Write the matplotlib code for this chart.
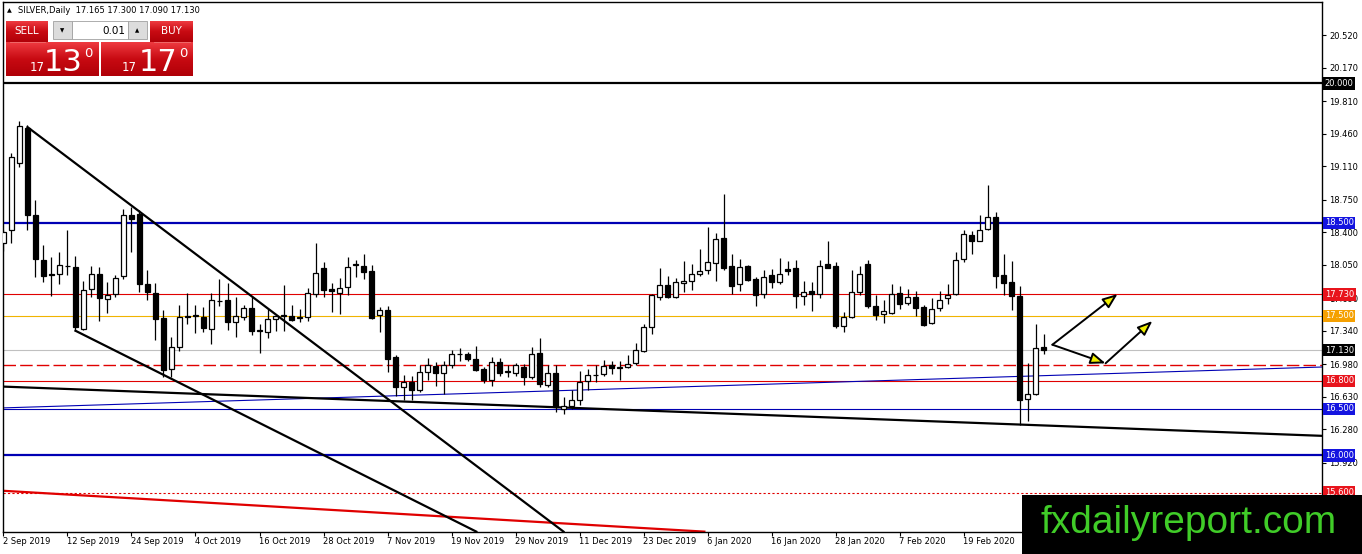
import numpy as np
import matplotlib
matplotlib.use('Agg')
import matplotlib.pyplot as plt
from matplotlib.patches import Rectangle
from matplotlib.colors import LinearSegmentedColormap

W, H = 1362, 554

# daily OHLC, one entry per bar (bar 0 = 2 Sep 2019)
opens = [18.28, 18.42, 19.14, 19.52, 18.59, 18.10, 17.95, 17.95, 18.04, 18.03,
         17.36, 17.79, 17.95, 17.68, 17.73, 17.93, 18.58, 18.60, 17.84, 17.75,
         17.48, 16.93, 17.17, 17.49, 17.50, 17.49, 17.36, 17.66, 17.67, 17.43,
         17.49, 17.58, 17.34, 17.33, 17.47, 17.50, 17.50, 17.48, 17.49, 17.74,
         18.01, 17.79, 17.75, 17.81, 18.05, 18.04, 17.98, 17.51, 17.56, 17.06,
         16.73, 16.79, 16.70, 16.90, 16.96, 16.89, 16.97, 17.09, 17.09, 17.04,
         16.93, 16.81, 17.00, 16.90, 16.89, 16.95, 16.84, 17.10, 16.76, 16.89,
         16.50, 16.53, 16.60, 16.80, 16.86, 16.88, 16.97, 16.94, 16.95, 16.99,
         17.12, 17.38, 17.70, 17.83, 17.70, 17.85, 17.87, 17.95, 17.99, 18.07,
         18.34, 18.04, 17.84, 18.04, 17.90, 17.73, 17.94, 17.86, 18.00, 18.01,
         17.71, 17.77, 17.73, 18.06, 18.04, 17.39, 17.49, 17.76, 18.06, 17.61,
         17.52, 17.53, 17.75, 17.64, 17.70, 17.60, 17.42, 17.58, 17.69, 17.73,
         18.11, 18.37, 18.31, 18.43, 18.56, 17.94, 17.86, 17.71, 16.61, 16.66,
         17.165]
highs = [18.42, 19.25, 19.60, 19.55, 18.75, 18.26, 18.13, 18.19, 18.42, 18.14,
         17.88, 18.04, 18.03, 17.86, 17.94, 18.65, 18.67, 18.64, 17.99, 17.85,
         17.56, 17.27, 17.62, 17.75, 17.62, 17.60, 17.75, 17.90, 17.85, 17.70,
         17.62, 17.70, 17.41, 17.57, 17.50, 17.83, 17.62, 17.57, 17.80, 18.28,
         18.08, 17.85, 17.91, 18.13, 18.10, 18.17, 18.05, 17.60, 17.61, 17.08,
         16.86, 16.85, 16.97, 17.05, 17.00, 17.01, 17.13, 17.15, 17.11, 17.18,
         16.95, 17.06, 17.05, 16.97, 16.99, 16.98, 17.17, 17.26, 16.97, 16.97,
         16.63, 16.70, 16.91, 16.93, 16.97, 17.03, 17.02, 17.01, 17.08, 17.21,
         17.41, 17.73, 18.01, 17.93, 17.91, 18.09, 18.06, 18.22, 18.46, 18.39,
         18.81, 18.16, 18.11, 18.05, 17.92, 17.99, 18.00, 18.12, 18.09, 18.10,
         17.88, 17.86, 18.10, 18.30, 18.08, 17.54, 17.99, 18.04, 18.10, 17.72,
         17.67, 17.84, 17.82, 17.79, 17.77, 17.62, 17.69, 17.77, 17.84, 18.19,
         18.42, 18.41, 18.59, 18.91, 18.62, 18.16, 18.09, 17.82, 16.99, 17.41,
         17.30]
lows = [18.20, 18.28, 19.10, 18.42, 17.92, 17.86, 17.71, 17.84, 17.94, 17.34,
        17.35, 17.70, 17.45, 17.53, 17.70, 17.90, 18.19, 17.76, 17.67, 17.24,
        16.84, 16.84, 17.12, 17.41, 17.32, 17.33, 17.20, 17.61, 17.35, 17.27,
        17.46, 17.29, 17.10, 17.26, 17.34, 17.34, 17.44, 17.43, 17.44, 17.70,
        17.70, 17.54, 17.52, 17.72, 17.92, 17.90, 17.47, 17.33, 16.90, 16.64,
        16.60, 16.59, 16.68, 16.81, 16.75, 16.66, 16.94, 17.02, 17.02, 16.91,
        16.78, 16.75, 16.85, 16.84, 16.85, 16.76, 16.82, 16.73, 16.74, 16.47,
        16.45, 16.50, 16.54, 16.70, 16.79, 16.85, 16.88, 16.81, 16.94, 16.97,
        17.11, 17.30, 17.67, 17.69, 17.69, 17.76, 17.78, 17.93, 17.95, 17.88,
        17.99, 17.73, 17.77, 17.87, 17.61, 17.69, 17.80, 17.84, 17.94, 17.58,
        17.62, 17.55, 17.69, 18.01, 17.37, 17.33, 17.48, 17.72, 17.58, 17.46,
        17.42, 17.52, 17.57, 17.62, 17.50, 17.39, 17.41, 17.55, 17.63, 17.72,
        18.08, 18.16, 18.30, 18.42, 17.80, 17.72, 17.56, 16.33, 16.37, 16.65,
        17.09]
closes = [18.40, 19.21, 19.54, 18.59, 18.11, 17.93, 17.94, 18.05, 18.035, 17.38,
          17.78, 17.95, 17.69, 17.72, 17.91, 18.59, 18.54, 17.84, 17.76, 17.47,
          16.92, 17.16, 17.49, 17.50, 17.505, 17.37, 17.67, 17.665, 17.43, 17.50,
          17.59, 17.34, 17.345, 17.47, 17.50, 17.505, 17.46, 17.485, 17.75, 17.96,
          17.78, 17.77, 17.80, 18.03, 18.055, 17.97, 17.48, 17.56, 17.04, 16.73,
          16.79, 16.70, 16.90, 16.97, 16.89, 16.97, 17.09, 17.095, 17.04, 16.92,
          16.81, 17.00, 16.89, 16.905, 16.97, 16.84, 17.09, 16.77, 16.89, 16.52,
          16.53, 16.60, 16.79, 16.86, 16.865, 16.96, 16.94, 16.945, 16.98, 17.13,
          17.38, 17.72, 17.83, 17.70, 17.86, 17.88, 17.95, 17.98, 18.08, 18.33,
          18.02, 17.82, 18.03, 17.89, 17.72, 17.92, 17.86, 17.95, 17.98, 17.71,
          17.76, 17.73, 18.04, 18.02, 17.39, 17.49, 17.76, 17.95, 17.61, 17.51,
          17.55, 17.74, 17.63, 17.70, 17.58, 17.40, 17.57, 17.67, 17.72, 18.10,
          18.38, 18.30, 18.42, 18.56, 17.93, 17.85, 17.71, 16.59, 16.66, 17.15,
          17.13]

date_labels = ['2 Sep 2019', '12 Sep 2019', '24 Sep 2019', '4 Oct 2019',
               '16 Oct 2019', '28 Oct 2019', '7 Nov 2019', '19 Nov 2019',
               '29 Nov 2019', '11 Dec 2019', '23 Dec 2019', '6 Jan 2020',
               '16 Jan 2020', '28 Jan 2020', '7 Feb 2020', '19 Feb 2020']
label_bars = list(range(0, 8 * len(date_labels), 8))

price_ticks = [20.52, 20.17, 19.81, 19.46, 19.11, 18.75, 18.40, 18.05,
               17.69, 17.34, 16.98, 16.63, 16.28, 15.92]

# price tags on the right axis
tag_values = [20.0, 18.5, 17.73, 17.5, 17.13, 16.8, 16.5, 16.0, 15.6]

# trend lines (bar, price) pairs
line_a = ([3.0, 70.0], [19.53, 15.18])
line_b = ([9.0, 59.1], [17.34, 15.18])
black_trend = ([-0.2, 164.8], [16.74, 16.21])
blue_trend = ([-0.2, 164.8], [16.51, 16.95])
red_trend = ([-0.2, 87.6], [15.62, 15.18])

# arrows (start bar, start price, end bar, end price)
arrows = [(131.1, 17.19, 139.25, 17.735),
          (131.1, 17.19, 137.75, 16.99),
          (137.75, 16.99, 143.6, 17.445)]

plt.rcParams['font.family'] = ['DejaVu Sans']
fig = plt.figure(figsize=(W / 100, H / 100), dpi=100)
fig.patch.set_facecolor('white')
ax = fig.add_axes([3 / W, (H - 532) / H, 1319 / W, 530 / H])
ax.set_xlim(-0.06, 164.8)
ax.set_ylim(15.176, 20.875)

RED = '#e00000'
BLUE = '#0000b4'
GOLD = '#f0b400'

# levels
ax.axhline(20.0, color='black', lw=1.6, zorder=1)
ax.axhline(18.5, color=BLUE, lw=1.6, zorder=1)
ax.axhline(17.73, color=RED, lw=0.8, zorder=1)
ax.axhline(17.5, color=GOLD, lw=0.8, zorder=1)
ax.axhline(17.13, color='#c0c0c0', lw=0.8, zorder=1)
ax.axhline(16.975, color=RED, lw=1.0, dashes=(9, 3), zorder=1)
ax.axhline(16.8, color=RED, lw=0.8, zorder=1)
ax.axhline(16.5, color=BLUE, lw=0.8, zorder=1)
ax.axhline(16.0, color=BLUE, lw=1.6, zorder=1)
ax.axhline(15.6, color=RED, lw=0.8, dashes=(2, 2), zorder=1)

# trend lines
ax.plot(*blue_trend, color=BLUE, lw=0.8, zorder=2)
ax.plot(*black_trend, color='black', lw=1.6, zorder=2)
ax.plot(*red_trend, color=RED, lw=1.6, zorder=2)
ax.plot(*line_a, color='black', lw=1.6, zorder=5)
ax.plot(*line_b, color='black', lw=1.6, zorder=5)

# candles
o = np.array(opens); h = np.array(highs); l = np.array(lows); c = np.array(closes)
x = np.arange(len(o))
up = c >= o
ax.vlines(x, l, h, color='black', lw=0.9, zorder=3)
body_bot = np.minimum(o, c)
body_h = np.maximum(np.abs(c - o), 0.004)
ax.bar(x, body_h, bottom=body_bot, width=0.62,
       color=np.where(up, 'white', 'black'), edgecolor='black',
       linewidth=0.9, zorder=4)

for x0, y0, x1, y1 in arrows:
    ax.annotate('', xy=(x1, y1), xytext=(x0, y0),
                arrowprops=dict(arrowstyle='-|>,head_length=0.9,head_width=0.35',
                                fc='#f0f000', ec='black', lw=1.4,
                                mutation_scale=10, shrinkA=0, shrinkB=0),
                zorder=6)

# axes styling
for s in ax.spines.values():
    s.set_color('black')
    s.set_linewidth(1.0)
ax.yaxis.tick_right()
ax.set_yticks(price_ticks)
ax.set_yticklabels([f'{v:.3f}' for v in price_ticks])
ax.tick_params(axis='y', direction='out', length=3, width=0.8, pad=2,
               labelsize=6.0, colors='black')
ax.set_xticks(label_bars)
ax.set_xticklabels([])
ax.tick_params(axis='x', direction='out', length=3, width=0.8)
for b, lab in zip(label_bars, date_labels):
    ax.text(b - 0.06, -0.009, lab, transform=ax.get_xaxis_transform(),
            ha='left', va='top', fontsize=6.0, clip_on=False)

tag_colors = ['black', '#1414e0', '#e8141c', '#f5a000', 'black',
              '#e8141c', '#1414e0', '#1414e0', '#e8141c']
for v, col in zip(tag_values, tag_colors):
    ax.text(1.002, v, f'{v:.3f}', transform=ax.get_yaxis_transform(),
            ha='left', va='center', color='white', fontsize=6.0, zorder=10,
            clip_on=False,
            bbox=dict(boxstyle='square,pad=0.2', fc=col, ec='none'))

# overlay in pixel coordinates: trading panel and watermark
ov = fig.add_axes([0, 0, 1, 1], zorder=5)
ov.set_xlim(0, W)
ov.set_ylim(H, 0)
ov.axis('off')
ov.patch.set_alpha(0)

red_cmap = LinearSegmentedColormap.from_list('btn', ['#ee3a40', '#c80a12', '#b00008'])
grad = np.linspace(0, 1, 50).reshape(-1, 1)


def grad_box(x0, y0, x1, y1):
    ov.imshow(grad, cmap=red_cmap, extent=(x0, x1, y1, y0), aspect='auto',
              interpolation='bilinear', zorder=1)


grad_box(6, 21, 48, 42)
grad_box(150, 21, 193, 42)
grad_box(6, 42, 99, 76)
grad_box(101, 42, 193, 76)
ov.set_xlim(0, W)
ov.set_ylim(H, 0)
ov.plot([10, 45], [42, 42], color='#f07070', lw=0.6, zorder=2)
ov.plot([154, 190], [42, 42], color='#f07070', lw=0.6, zorder=2)
ov.add_patch(Rectangle((53, 21), 19, 18, fc='#dcdcdc', ec='#a0a0a0', lw=0.6, zorder=2))
ov.add_patch(Rectangle((72, 21), 56, 18, fc='white', ec='#a0a0a0', lw=0.6, zorder=2))
ov.add_patch(Rectangle((128, 21), 19, 18, fc='#dcdcdc', ec='#a0a0a0', lw=0.6, zorder=2))
ov.text(62.5, 30.5, '▼', fontsize=4, ha='center', va='center', zorder=3)
ov.text(137.5, 30.5, '▲', fontsize=4, ha='center', va='center', zorder=3)
ov.text(125, 30.5, '0.01', fontsize=7.5, ha='right', va='center', zorder=3)
ov.text(27, 31, 'SELL', fontsize=7.5, color='white', ha='center', va='center', zorder=3)
ov.text(171, 31, 'BUY', fontsize=7.5, color='white', ha='center', va='center', zorder=3)
for cx_small, cx_big, cx_sup, big in [(37, 63, 88, '13'), (129, 158, 183, '17')]:
    ov.text(cx_small, 71, '17', fontsize=8.5, color='white', ha='center',
            va='baseline', zorder=3)
    ov.text(cx_big, 71, big, fontsize=22, color='white', ha='center',
            va='baseline', zorder=3)
    ov.text(cx_sup, 57, '0', fontsize=9.5, color='white', ha='center',
            va='baseline', zorder=3)
ov.text(7, 10.5, '▲', fontsize=4.5, ha='left', va='center', zorder=3)
ov.text(18, 10.5, 'SILVER,Daily  17.165 17.300 17.090 17.130', fontsize=6.0,
        ha='left', va='center', zorder=3)

ov.add_patch(Rectangle((1022, 495), W - 1022, H - 495, fc='black', ec='none', zorder=4))
ov.text(1189, 523, 'fxdailyreport.com', fontsize=28, color='#40cc28',
        family='Liberation Sans', ha='center', va='center', zorder=5)

fig.savefig('out.png', dpi=100)
